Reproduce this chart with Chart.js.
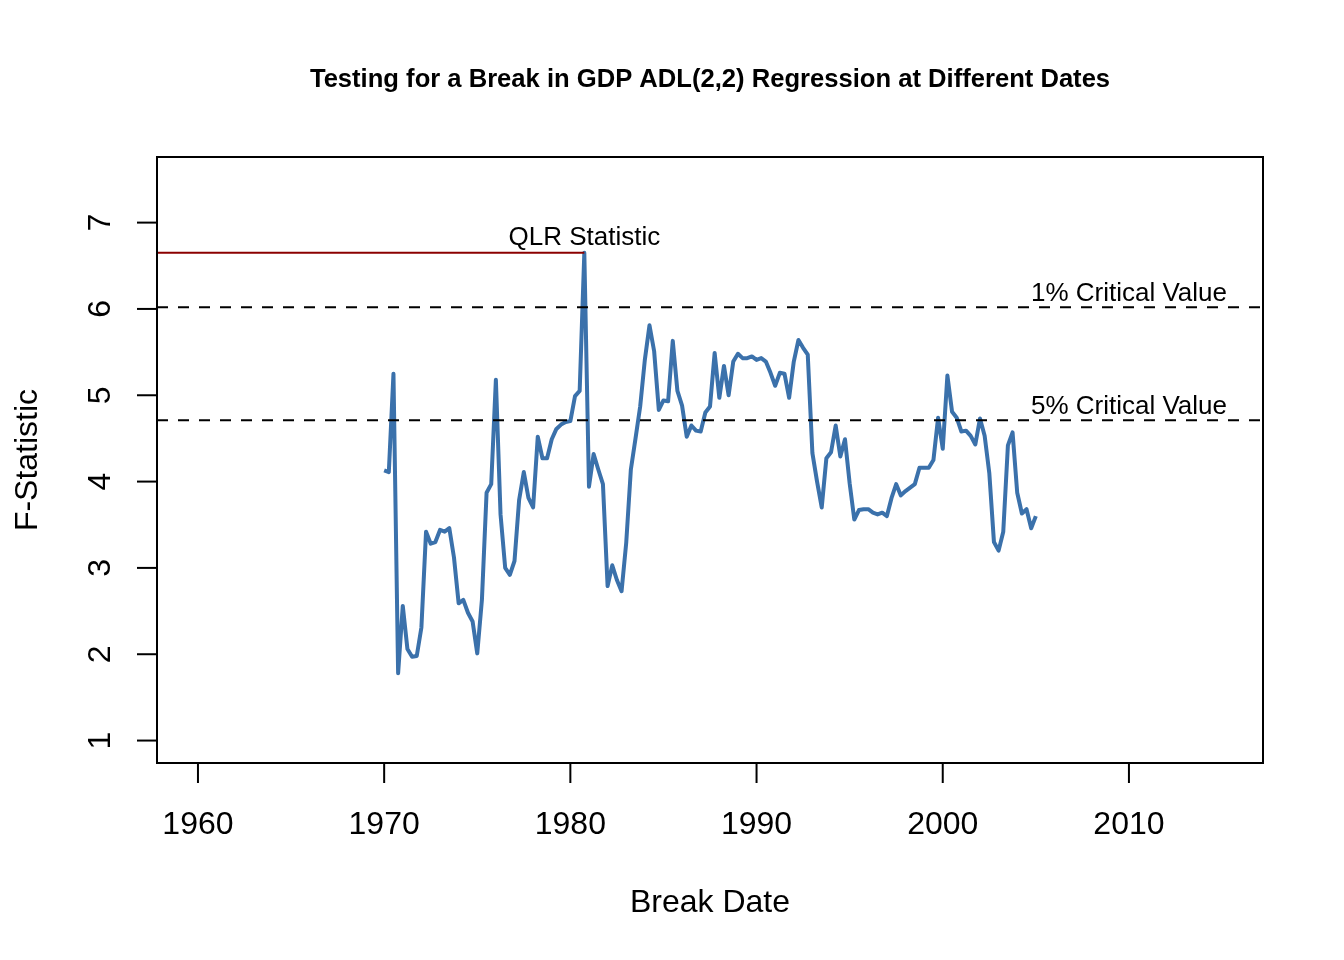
<!DOCTYPE html>
<html>
<head>
<meta charset="utf-8">
<script src="https://cdn.jsdelivr.net/npm/chart.js@4/dist/chart.umd.min.js"></script>
<style>
  body { margin: 0; background: #fff; }
  #wrap { width: 1344px; height: 960px; }
</style>
</head>
<body>
<div id="wrap"><canvas id="myChart" width="1344" height="960"></canvas></div>
<script>
// break dates (quarterly) and the F-statistic at each one
var breakDates = [
  1970, 1970.25, 1970.5, 1970.75, 1971, 1971.25, 1971.5, 1971.75,
  1972, 1972.25, 1972.5, 1972.75, 1973, 1973.25, 1973.5, 1973.75,
  1974, 1974.25, 1974.5, 1974.75, 1975, 1975.25, 1975.5, 1975.75,
  1976, 1976.25, 1976.5, 1976.75, 1977, 1977.25, 1977.5, 1977.75,
  1978, 1978.25, 1978.5, 1978.75, 1979, 1979.25, 1979.5, 1979.75,
  1980, 1980.25, 1980.5, 1980.75, 1981, 1981.25, 1981.5, 1981.75,
  1982, 1982.25, 1982.5, 1982.75, 1983, 1983.25, 1983.5, 1983.75,
  1984, 1984.25, 1984.5, 1984.75, 1985, 1985.25, 1985.5, 1985.75,
  1986, 1986.25, 1986.5, 1986.75, 1987, 1987.25, 1987.5, 1987.75,
  1988, 1988.25, 1988.5, 1988.75, 1989, 1989.25, 1989.5, 1989.75,
  1990, 1990.25, 1990.5, 1990.75, 1991, 1991.25, 1991.5, 1991.75,
  1992, 1992.25, 1992.5, 1992.75, 1993, 1993.25, 1993.5, 1993.75,
  1994, 1994.25, 1994.5, 1994.75, 1995, 1995.25, 1995.5, 1995.75,
  1996, 1996.25, 1996.5, 1996.75, 1997, 1997.25, 1997.5, 1997.75,
  1998, 1998.25, 1998.5, 1998.75, 1999, 1999.25, 1999.5, 1999.75,
  2000, 2000.25, 2000.5, 2000.75, 2001, 2001.25, 2001.5, 2001.75,
  2002, 2002.25, 2002.5, 2002.75, 2003, 2003.25, 2003.5, 2003.75,
  2004, 2004.25, 2004.5, 2004.75, 2005
];
var fStats = [
  4.13, 4.11, 5.25, 1.78, 2.56, 2.06, 1.97, 1.98,
  2.31, 3.42, 3.28, 3.30, 3.44, 3.42, 3.46, 3.12,
  2.59, 2.63, 2.48, 2.38, 2.01, 2.63, 3.87, 3.97,
  5.18, 3.62, 3.00, 2.92, 3.08, 3.79, 4.11, 3.81,
  3.70, 4.52, 4.27, 4.27, 4.49, 4.61, 4.66, 4.69,
  4.70, 4.99, 5.05, 6.65, 3.94, 4.32, 4.14, 3.97,
  2.79, 3.03, 2.86, 2.73, 3.29, 4.14, 4.50, 4.87,
  5.41, 5.81, 5.51, 4.83, 4.94, 4.93, 5.63, 5.05,
  4.88, 4.52, 4.65, 4.59, 4.58, 4.80, 4.87, 5.49,
  4.97, 5.34, 5.00, 5.39, 5.48, 5.43, 5.43, 5.45,
  5.41, 5.43, 5.39, 5.26, 5.11, 5.26, 5.25, 4.97,
  5.39, 5.64, 5.55, 5.47, 4.33, 4.00, 3.70, 4.27,
  4.34, 4.65, 4.29, 4.49, 3.98, 3.56, 3.67, 3.68,
  3.68, 3.64, 3.62, 3.64, 3.60, 3.81, 3.97, 3.84,
  3.89, 3.93, 3.97, 4.16, 4.16, 4.16, 4.25, 4.74,
  4.38, 5.23, 4.81, 4.74, 4.58, 4.59, 4.53, 4.43,
  4.73, 4.53, 4.10, 3.30, 3.20, 3.42, 4.42, 4.57,
  3.87, 3.63, 3.68, 3.46, 3.60
];
var critValues = [6.02, 4.71];
var critLabels = ["1% Critical Value", "5% Critical Value"];
var xTicks = [1960, 1970, 1980, 1990, 2000, 2010];
var yTicks = [1, 2, 3, 4, 5, 6, 7];

var qlr = Math.max.apply(null, fStats);
var qlrDate = breakDates[fStats.indexOf(qlr)];

var xMin = 1957.8, xMax = 2017.2;
var yMin = 0.74, yMax = 7.76;
var FONT = "'Liberation Sans', Arial, Helvetica, sans-serif";

var fPoints = breakDates.map(function(d, i) { return { x: d, y: fStats[i] }; });

// R style box, ticks and text, drawn from the chart scales
var rAxes = {
    id: "rAxes",
    afterDraw: function(chart) {
        var c = chart.ctx, a = chart.chartArea;
        var xs = chart.scales.x, ys = chart.scales.y;
        c.save();
        c.strokeStyle = "#000";
        c.fillStyle = "#000";
        c.lineWidth = 2;
        c.strokeRect(a.left, a.top, a.right - a.left, a.bottom - a.top);

        c.font = "32px " + FONT;
        c.textAlign = "center";
        c.textBaseline = "alphabetic";
        xTicks.forEach(function(t) {
            var px = xs.getPixelForValue(t);
            c.beginPath();
            c.moveTo(px, a.bottom);
            c.lineTo(px, a.bottom + 20);
            c.stroke();
            c.fillText(String(t), px, 834);
        });
        yTicks.forEach(function(t) {
            var py = ys.getPixelForValue(t);
            c.beginPath();
            c.moveTo(a.left, py);
            c.lineTo(a.left - 20, py);
            c.stroke();
            c.save();
            c.translate(110, py);
            c.rotate(-Math.PI / 2);
            c.fillText(String(t), 0, 0);
            c.restore();
        });

        // axis titles
        c.fillText("Break Date", (a.left + a.right) / 2, 912);
        c.save();
        c.translate(37, (a.top + a.bottom) / 2);
        c.rotate(-Math.PI / 2);
        c.fillText("F-Statistic", 0, 0);
        c.restore();

        // title
        c.font = "bold 25.6px " + FONT;
        c.fillText("Testing for a Break in GDP ADL(2,2) Regression at Different Dates", (a.left + a.right) / 2, 87);

        // annotations
        c.font = "26px " + FONT;
        c.fillText("QLR Statistic", xs.getPixelForValue(qlrDate), ys.getPixelForValue(qlr) - 8);
        critValues.forEach(function(v, i) {
            c.fillText(critLabels[i], xs.getPixelForValue(2010), ys.getPixelForValue(v) - 6);
        });
        c.restore();
    }
};

var dashed = critValues.map(function(v) {
    return {
        data: [{ x: xMin, y: v }, { x: xMax, y: v }],
        borderColor: "#000",
        borderWidth: 2,
        borderDash: [11, 10],
        pointRadius: 0
    };
});

const ctx = document.getElementById("myChart").getContext("2d");
const myChart = new Chart(ctx, {
    type: "line",
    data: {
        datasets: dashed.concat([
            {
                data: [{ x: xMin, y: qlr }, { x: qlrDate, y: qlr }],
                borderColor: "#8B0000",
                borderWidth: 2,
                pointRadius: 0
            },
            {
                data: fPoints,
                borderColor: "#3B71AB",
                borderWidth: 4,
                pointRadius: 0,
                tension: 0,
                borderJoinStyle: "round"
            }
        ])
    },
    options: {
        responsive: false,
        animation: false,
        devicePixelRatio: 1,
        layout: { padding: { left: 157, right: 81, top: 157, bottom: 197 } },
        plugins: { legend: { display: false }, tooltip: { enabled: false } },
        scales: {
            x: { type: "linear", min: xMin, max: xMax, display: false },
            y: { type: "linear", min: yMin, max: yMax, display: false }
        }
    },
    plugins: [rAxes]
});
</script>
</body>
</html>
